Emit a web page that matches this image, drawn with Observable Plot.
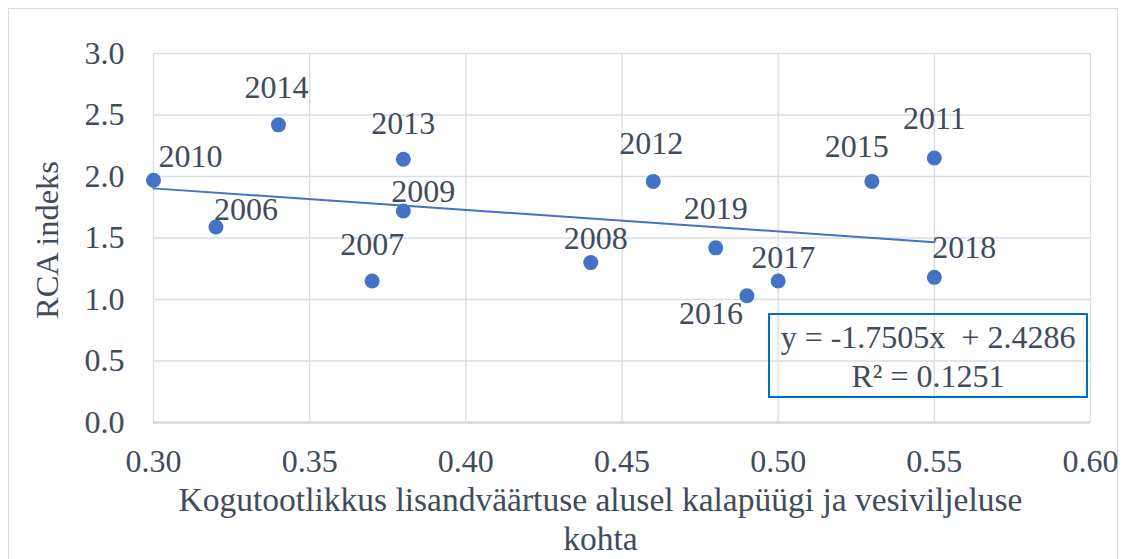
<!DOCTYPE html>
<html><head><meta charset="utf-8">
<script src="https://cdn.jsdelivr.net/npm/d3@7"></script>
<script src="https://cdn.jsdelivr.net/npm/@observablehq/plot@0.6"></script>
<style>
html,body{margin:0;padding:0;background:#fff;}
#wrap{position:relative;width:1125px;height:559px;overflow:hidden;font-family:"Liberation Serif","Times New Roman",serif;}
#border{position:absolute;left:8px;top:8px;width:1108px;height:620px;border:1px solid #d9d9d9;}
#chart{position:absolute;left:0;top:0;}
#eq{position:absolute;left:768px;top:313px;width:316px;height:78px;padding-top:3px;border:2px solid #0070C0;color:#404b5c;font-size:32px;text-align:center;line-height:39px;white-space:pre;box-sizing:content-box;}
</style>
</head><body>
<div id="wrap"><div id="border"></div><div id="chart"></div>
<div id="eq"></div></div>
<script>
// Data
const years = ["2010","2006","2014","2007","2013","2009","2008","2012","2019","2016","2017","2015","2011","2018"];
const productivity = [0.30,0.32,0.34,0.37,0.38,0.38,0.44,0.46,0.48,0.49,0.50,0.53,0.55,0.55];
const rca = [1.97,1.59,2.42,1.15,2.14,1.72,1.30,1.96,1.42,1.03,1.15,1.96,2.15,1.18];
const trendSlope = -1.7505;
const trendIntercept = 2.4286;
const rSquared = 0.1251;
const xTicks = [0.30,0.35,0.40,0.45,0.50,0.55,0.60];
const yTicks = [0.0,0.5,1.0,1.5,2.0,2.5,3.0];
const xTitle = "Kogutootlikkus lisandväärtuse alusel kalapüügi ja vesiviljeluse\nkohta";
const yTitle = "RCA indeks";

// Label placement (pixel offsets from each point)
const labelDx = [37,30,-2,0,0,20,5,-2,0,-36,5,-15,0,30];
const labelDy = [-23,-17,-37,-36,-36,-19,-24,-38,-39,18,-23,-35,-39,-30];

const textColor = "#404b5c";
const blue = "#4472C4";
const gridColor = "#d8dde4";
const fontSize = 32;

const pts = years.map((y,i)=>({year:y, x:productivity[i], y:rca[i], i}));
const xMin = d3.min(productivity), xMax = d3.max(productivity);
const trend = [xMin, xMax].map(x=>({x, y: trendSlope*x + trendIntercept}));

const labelMarks = pts.map(p => Plot.text([p], {
  x:"x", y:"y", text:"year", dx: labelDx[p.i], dy: labelDy[p.i],
  fill: textColor, fontSize, textAnchor:"middle", lineAnchor:"middle"
}));

const chart = Plot.plot({
  width:1125, height:559,
  marginLeft:153, marginRight:35, marginTop:53, marginBottom:137,
  style:{fontFamily:'"Liberation Serif","Times New Roman",serif', background:"transparent", color:textColor},
  x:{domain:[0.30,0.60], ticks:xTicks, label:null},
  y:{domain:[0,3.0], ticks:yTicks, label:null},
  marks:[
    Plot.gridX(xTicks, {stroke:gridColor, strokeOpacity:1, strokeWidth:1.3}),
    Plot.gridY(yTicks, {stroke:gridColor, strokeOpacity:1, strokeWidth:1.3}),
    Plot.ruleY([0], {stroke:"#cdd3db", strokeWidth:2}),
    Plot.axisX(xTicks, {tickSize:0, tickPadding:27, tickFormat:d3.format(".2f"), fontSize, fill:textColor, label:null}),
    Plot.axisY(yTicks, {tickSize:0, tickPadding:29, tickFormat:d3.format(".1f"), fontSize, fill:textColor, label:null}),
    Plot.line(trend, {x:"x", y:"y", stroke:blue, strokeWidth:2}),
    Plot.dot(pts, {x:"x", y:"y", r:7.5, fill:blue, stroke:null}),
    ...labelMarks,
    Plot.text([xTitle], {frameAnchor:"bottom", dx:-21.5, dy:96, fill:textColor, fontSize:33.5, lineHeight:1.164, textAnchor:"middle", lineAnchor:"middle"}),
    Plot.text([yTitle], {frameAnchor:"left", dx:-106, dy:2, rotate:-90, fill:textColor, fontSize:32.5, textAnchor:"middle", lineAnchor:"middle"})
  ]
});
document.getElementById("chart").appendChild(chart);
document.getElementById("eq").textContent = `y = ${trendSlope}x  + ${trendIntercept}\nR² = ${rSquared}`;
</script>
</body></html>
